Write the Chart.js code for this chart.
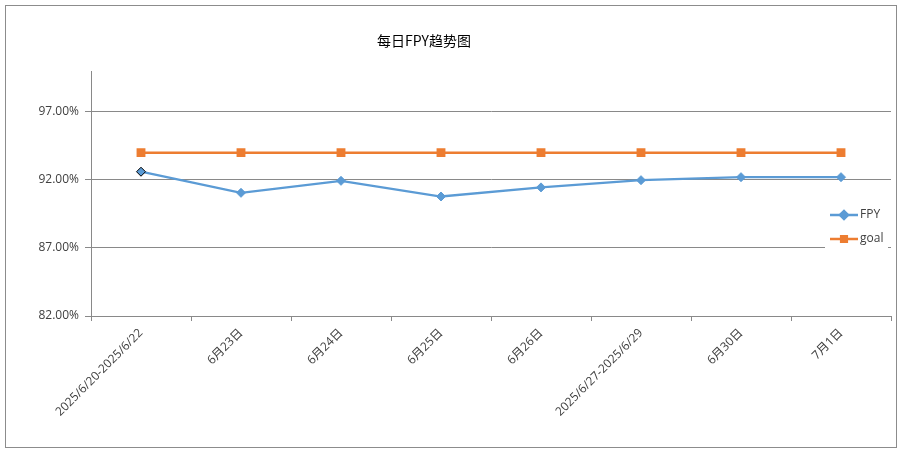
<!DOCTYPE html>
<html>
<head>
<meta charset="utf-8">
<script src="https://cdn.jsdelivr.net/npm/chart.js@4/dist/chart.umd.min.js"></script>
<style>
  html, body { margin: 0; padding: 0; background: #fff; }
  #wrap { width: 901px; height: 450px; position: relative; }
</style>
</head>
<body>
<div id="wrap"><canvas id="fpyChart"></canvas></div>
<script>
// Données
var categories = ['2025/6/20-2025/6/22', '6月23日', '6月24日', '6月25日', '6月26日', '2025/6/27-2025/6/29', '6月30日', '7月1日'];
var fpyValues = [92.6, 91.05, 91.93, 90.78, 91.45, 91.98, 92.2, 92.2];
var goalValues = [94, 94, 94, 94, 94, 94, 94, 94];
var yTicks = [82, 87, 92, 97];

var txt = '#404040';
var grid = '#898989';
var latin = '"Open Sans", "Noto Sans CJK SC", sans-serif';

// bordure, titre et légende dessinés à la main (légende posée sur la zone du graphe)
var decor = {
    id: 'decor',
    beforeDraw: function(chart) {
        var ctx = chart.ctx;
        ctx.save();
        ctx.fillStyle = '#fff';
        ctx.fillRect(0, 0, chart.width, chart.height);
        ctx.strokeStyle = '#8c8c8c';
        ctx.lineWidth = 1;
        ctx.strokeRect(5.5, 5.5, 891, 442);
        ctx.restore();
    },
    afterDraw: function(chart) {
        var ctx = chart.ctx;
        ctx.save();
        ctx.fillStyle = '#000';
        ctx.font = '14px "Noto Sans CJK SC", sans-serif';
        ctx.textAlign = 'center';
        ctx.textBaseline = 'middle';
        ctx.fillText('每日FPY趋势图', 424, 41);

        ctx.fillStyle = '#fff';
        ctx.fillRect(825, 201, 63, 51);
        chart.data.datasets.forEach(function(ds, i) {
            var y = 215 + i * 24;
            ctx.strokeStyle = ds.borderColor;
            ctx.lineWidth = 2.5;
            ctx.beginPath();
            ctx.moveTo(830, y);
            ctx.lineTo(858, y);
            ctx.stroke();
            ctx.fillStyle = ds.backgroundColor;
            ctx.strokeStyle = ds.backgroundColor;
            Chart.helpers.drawPoint(ctx, {pointStyle: ds.pointStyle, radius: 4, rotation: 0, borderWidth: 1}, 844, y);
            ctx.fillStyle = txt;
            ctx.font = '12px ' + latin;
            ctx.textAlign = 'left';
            ctx.fillText(ds.label, 860, y);
        });
        ctx.restore();
    }
};

var ctx = document.getElementById('fpyChart').getContext('2d');
new Chart(ctx, {
    type: 'line',
    data: {
        labels: categories,
        datasets: [{
            label: 'FPY',
            data: fpyValues,
            borderColor: '#5B9BD5',
            backgroundColor: '#5B9BD5',
            pointBorderColor: fpyValues.map(function(v, i) { return i === 0 ? '#000' : '#5B9BD5'; }),
            pointBorderWidth: 1,
            borderWidth: 2.25,
            pointStyle: 'rectRot',
            pointRadius: 4.5,
            tension: 0
        }, {
            label: 'goal',
            data: goalValues,
            borderColor: '#ED7D31',
            backgroundColor: '#ED7D31',
            borderWidth: 2.5,
            pointStyle: 'rect',
            pointRadius: 4.5,
            tension: 0
        }]
    },
    options: {
        responsive: true,
        maintainAspectRatio: false,
        animation: false,
        layout: { padding: { left: 0, right: 10, top: 71, bottom: 0 } },
        plugins: {
            legend: { display: false },
            title: { display: false },
            tooltip: { enabled: false }
        },
        scales: {
            x: {
                offset: true,
                grid: { offset: true, drawOnChartArea: false, drawTicks: true, tickLength: 5, color: grid },
                border: { display: true, color: grid },
                ticks: {
                    autoSkip: false,
                    maxRotation: 45,
                    minRotation: 45,
                    padding: 5,
                    color: txt,
                    font: { family: latin, size: 12 }
                },
                afterFit: function(scale) { scale.height = 134; }
            },
            y: {
                min: 82,
                max: 100,
                afterBuildTicks: function(scale) {
                    scale.ticks = yTicks.map(function(v) { return { value: v }; });
                },
                grid: { color: grid, tickLength: 6 },
                border: { display: true, color: grid },
                ticks: {
                    padding: 6,
                    color: txt,
                    font: { family: latin, size: 12 },
                    callback: function(v) { return v.toFixed(2) + '%'; }
                },
                afterFit: function(scale) { scale.width = 91; }
            }
        }
    },
    plugins: [decor]
});
</script>
</body>
</html>
